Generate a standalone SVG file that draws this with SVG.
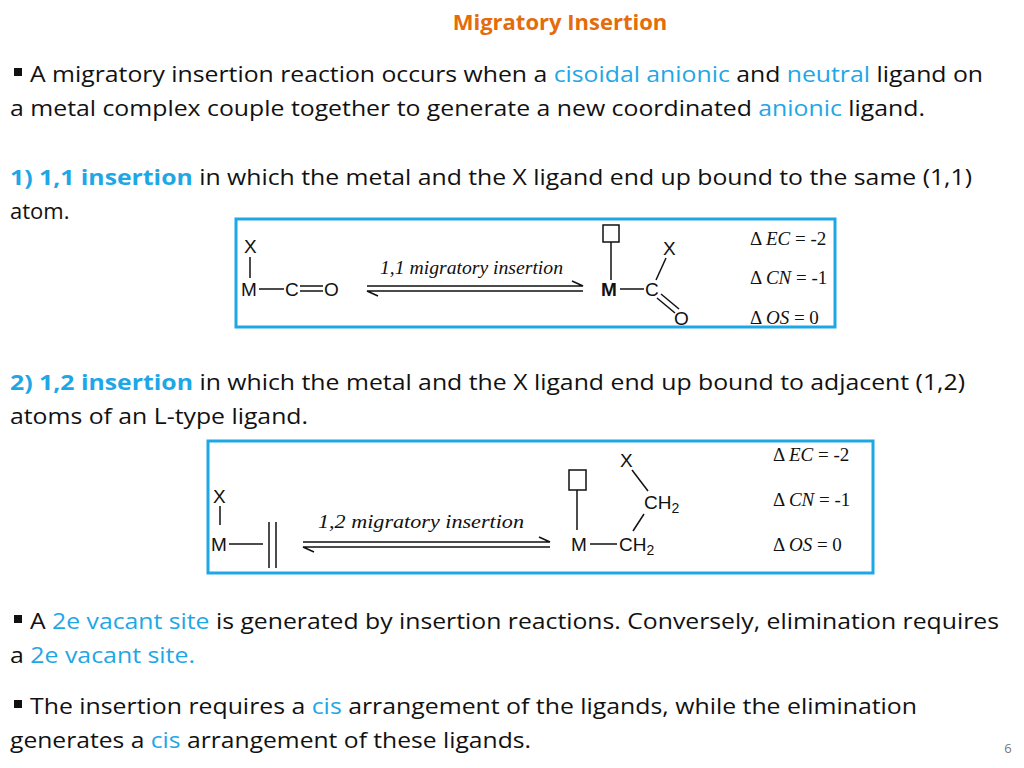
<svg xmlns="http://www.w3.org/2000/svg" width="1024" height="768" viewBox="0 0 1024 768">
<style>
.t{font-family:"Open Sans","Liberation Sans",sans-serif;font-size:22px;fill:#111}
.b{fill:#1ea7e6}
.h{font-weight:bold}
.box{fill:none;stroke:#1ea7e6;stroke-width:3}
.ch{font-family:"Liberation Sans",Arial,sans-serif;font-size:19px;fill:#111}
.ln{stroke:#111;stroke-width:1.5;fill:none}
.lb{font-family:"Liberation Serif",serif;font-style:italic;font-size:18px;fill:#111}
.d{font-family:"Liberation Serif",serif;font-size:19px;fill:#111}
</style>
<rect width="1024" height="768" fill="#fff"/>
<text x="560" y="30" text-anchor="middle" style="font-family:'Open Sans','Liberation Sans',sans-serif;font-size:22px;font-weight:bold;fill:#e46c0a">Migratory Insertion</text>
<g id="text">
<rect x="14" y="68" width="8" height="8" fill="#111"/>
<text class="t" x="30" y="82" textLength="953" lengthAdjust="spacingAndGlyphs">A migratory insertion reaction occurs when a <tspan class="b">cisoidal anionic</tspan> and <tspan class="b">neutral</tspan> ligand on</text>
<text class="t" x="10" y="116" textLength="915" lengthAdjust="spacingAndGlyphs">a metal complex couple together to generate a new coordinated <tspan class="b">anionic</tspan> ligand.</text>
<text class="t" x="10" y="185" textLength="962" lengthAdjust="spacingAndGlyphs"><tspan class="b h">1) 1,1 insertion</tspan> in which the metal and the X ligand end up bound to the same (1,1)</text>
<text class="t" x="10" y="219">atom.</text>
<text class="t" x="10" y="390" textLength="955" lengthAdjust="spacingAndGlyphs"><tspan class="b h">2) 1,2 insertion</tspan> in which the metal and the X ligand end up bound to adjacent (1,2)</text>
<text class="t" x="10" y="424" textLength="298" lengthAdjust="spacingAndGlyphs">atoms of an L-type ligand.</text>
<rect x="14" y="615" width="8" height="8" fill="#111"/>
<text class="t" x="30" y="629" textLength="969" lengthAdjust="spacingAndGlyphs">A <tspan class="b">2e vacant site</tspan> is generated by insertion reactions. Conversely, elimination requires</text>
<text class="t" x="10" y="663" textLength="185" lengthAdjust="spacingAndGlyphs">a <tspan class="b">2e vacant site.</tspan></text>
<rect x="14" y="700" width="8" height="8" fill="#111"/>
<text class="t" x="30" y="714" textLength="887" lengthAdjust="spacingAndGlyphs">The insertion requires a <tspan class="b">cis</tspan> arrangement of the ligands, while the elimination</text>
<text class="t" x="10" y="748" textLength="521" lengthAdjust="spacingAndGlyphs">generates a <tspan class="b">cis</tspan> arrangement of these ligands.</text>
<text x="1008" y="753" text-anchor="middle" style="font-family:'Open Sans',sans-serif;font-size:13px;fill:#777">6</text>
</g>
<g id="scheme1">
<rect class="box" x="236" y="219" width="599" height="108"/>
<text class="ch" x="244" y="253">X</text>
<line class="ln" x1="250" y1="257" x2="250" y2="278"/>
<text class="ch" x="241" y="296">M</text>
<line class="ln" x1="259" y1="289" x2="284" y2="289"/>
<text class="ch" x="285" y="296">C</text>
<line class="ln" x1="300" y1="286" x2="323" y2="286"/>
<line class="ln" x1="300" y1="291" x2="323" y2="291"/>
<text class="ch" x="324" y="296">O</text>
<text class="lb" x="380" y="274" textLength="183" lengthAdjust="spacingAndGlyphs">1,1 migratory insertion</text>
<path class="ln" d="M367 286H583L572 281"/>
<path class="ln" d="M583 291H367L378 296"/>
<rect class="ln" x="603" y="225" width="16" height="17"/>
<line class="ln" x1="611" y1="242" x2="611" y2="280"/>
<text class="ch" x="601" y="296" style="font-weight:bold">M</text>
<line class="ln" x1="620" y1="289" x2="644" y2="289"/>
<text class="ch" x="645" y="296">C</text>
<line class="ln" x1="656" y1="280" x2="666" y2="258"/>
<text class="ch" x="663" y="255">X</text>
<line class="ln" x1="657" y1="298" x2="675" y2="313"/>
<line class="ln" x1="661" y1="294" x2="679" y2="309"/>
<text class="ch" x="674" y="325">O</text>
<text class="d" x="750" y="245"><tspan>Δ</tspan> <tspan font-style="italic">EC</tspan> = -2</text>
<text class="d" x="750" y="284"><tspan>Δ</tspan> <tspan font-style="italic">CN</tspan> = -1</text>
<text class="d" x="750" y="324"><tspan>Δ</tspan> <tspan font-style="italic">OS</tspan> = 0</text>
</g>
<g id="scheme2">
<rect class="box" x="208" y="441" width="665" height="132"/>
<text class="ch" x="213" y="503">X</text>
<line class="ln" x1="220" y1="506" x2="220" y2="525"/>
<text class="ch" x="211" y="551">M</text>
<line class="ln" x1="229" y1="544" x2="263" y2="544"/>
<line class="ln" x1="269" y1="522" x2="269" y2="568"/>
<line class="ln" x1="276" y1="522" x2="276" y2="568"/>
<text class="lb" x="318" y="528" textLength="206" lengthAdjust="spacingAndGlyphs">1,2 migratory insertion</text>
<path class="ln" d="M303 542H550L539 537"/>
<path class="ln" d="M550 547H303L314 552"/>
<rect class="ln" x="569" y="470" width="17" height="20"/>
<line class="ln" x1="577" y1="490" x2="577" y2="530"/>
<text class="ch" x="571" y="551">M</text>
<line class="ln" x1="590" y1="544" x2="617" y2="544"/>
<text class="ch" x="619" y="551">CH<tspan font-size="14" dy="4">2</tspan></text>
<line class="ln" x1="633" y1="531" x2="644" y2="514"/>
<text class="ch" x="644" y="509">CH<tspan font-size="14" dy="4">2</tspan></text>
<line class="ln" x1="632" y1="470" x2="648" y2="491"/>
<text class="ch" x="620" y="467">X</text>
<text class="d" x="773" y="461"><tspan>Δ</tspan> <tspan font-style="italic">EC</tspan> = -2</text>
<text class="d" x="773" y="506"><tspan>Δ</tspan> <tspan font-style="italic">CN</tspan> = -1</text>
<text class="d" x="773" y="551"><tspan>Δ</tspan> <tspan font-style="italic">OS</tspan> = 0</text>
</g>
</svg>
